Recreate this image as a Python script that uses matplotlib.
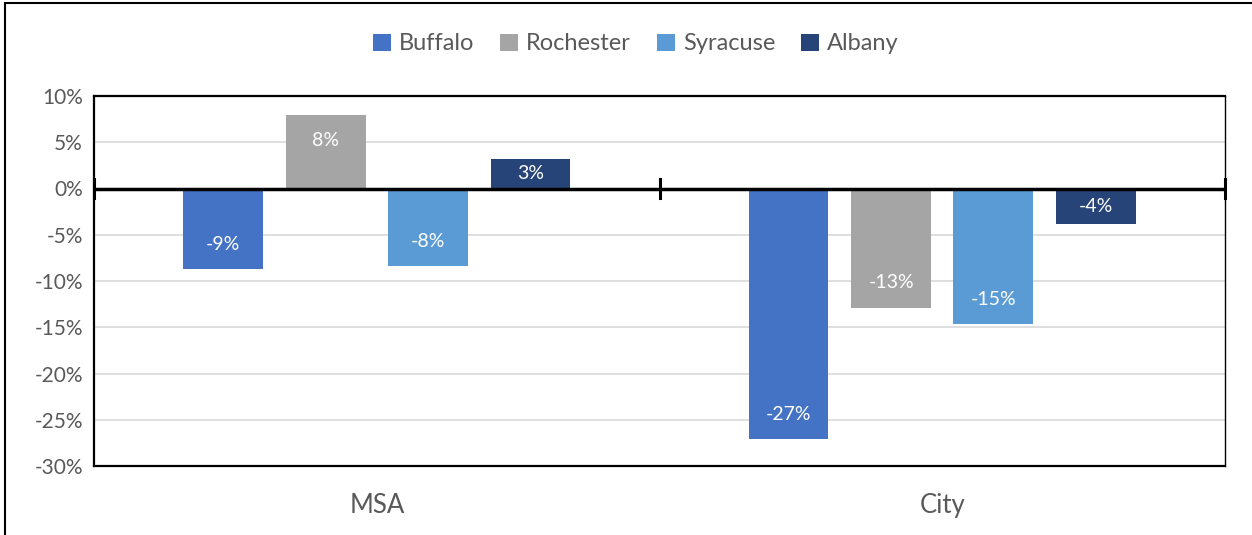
import matplotlib.pyplot as plt
import numpy as np

groups = ["MSA", "City"]
series = ["Buffalo", "Rochester", "Syracuse", "Albany"]
colors = ["#4472C4", "#A5A5A5", "#5B9BD5", "#264478"]
buffalo = [-8.7, -27.1]
rochester = [7.9, -12.9]
syracuse = [-8.4, -14.7]
albany = [3.2, -3.8]
values = [buffalo, rochester, syracuse, albany]

plt.rcParams['font.family'] = ['Lato', 'DejaVu Sans']

fig = plt.figure(figsize=(12.52, 5.35), dpi=100)
ax = fig.add_axes([94 / 1252, 1 - 466 / 535, (1225 - 94) / 1252, (466 - 96) / 535])

x = np.arange(len(groups))
width = 0.141
offsets = [-0.272, -0.09, 0.09, 0.272]

for name, vals, col, off in zip(series, values, colors, offsets):
    bars = ax.bar(x + off, vals, width, color=col, label=name, zorder=3)
    for b, v in zip(bars, vals):
        if abs(v) < 5.4:
            y = v / 2
        else:
            y = v - np.sign(v) * 2.7
        ax.text(b.get_x() + b.get_width() / 2, y, f"{round(v):d}%",
                ha="center", va="center", color="white", fontsize=14, zorder=4)

ax.set_xlim(-0.5, 1.5)
ax.set_ylim(-30, 10)
ax.set_yticks(np.arange(-30, 11, 5))
ax.set_yticklabels([f"{t}%" for t in range(-30, 11, 5)])
ax.yaxis.grid(True, color="#D9D9D9", linewidth=1.2, zorder=0)
ax.tick_params(axis="y", length=0, labelsize=15, labelcolor="#595959", pad=8)
ax.set_xticks([])

# zero line with category tick marks
ax.axhline(0, color="black", linewidth=2.5, zorder=5)
for xt in [-0.5, 0.5, 1.5]:
    ax.plot([xt, xt], [-1, 1], color="black", linewidth=2.2, zorder=5, clip_on=False)

for s in ["left", "top", "bottom"]:
    ax.spines[s].set_linewidth(1.6)
ax.spines["right"].set_linewidth(1.0)

for xi, g in zip(x, groups):
    ax.text(xi, -34.3, g, ha="center", va="center", fontsize=18.5, color="#595959")

leg = fig.legend(loc="center", bbox_to_anchor=(0.508, 1 - 44 / 535), ncol=4, frameon=False,
                 fontsize=17, handlelength=0.75, handleheight=0.75, handletextpad=0.35,
                 columnspacing=1.1)
for t in leg.get_texts():
    t.set_color("#595959")

# outer chart border
fig.add_artist(plt.Rectangle((5 / 1252, -0.01), 1.2, 1 - 3 / 535 + 0.01, transform=fig.transFigure,
                             fill=False, edgecolor="black", linewidth=1.5))

plt.savefig("out.png", dpi=100)
